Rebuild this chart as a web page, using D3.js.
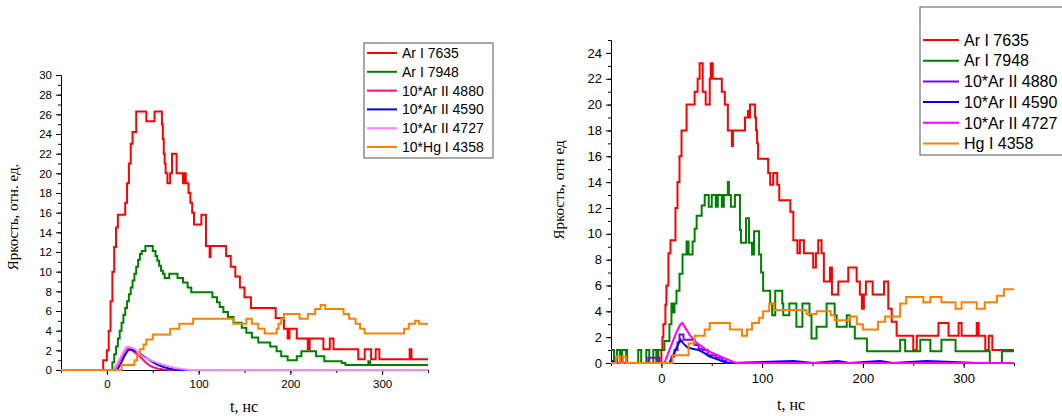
<!DOCTYPE html>
<html>
<head>
<meta charset="utf-8">
<script src="https://cdn.jsdelivr.net/npm/d3@7"></script>
<style>
  body { margin: 0; background: #fff; }
  svg text { font-family: "Liberation Sans", Arial, sans-serif; }
  .axis-title { font-family: "Liberation Serif", "Times New Roman", serif !important; }
</style>
</head>
<body>
<div id="main"></div>
<script>
// ---- data, [t (нс), яркость] ----
// left panel
var leftArI7635 = [[-50,0],[-4,1],[0,2],[2,4],[4,7],[6,10],[8,12.5],[10,14.5],[12,15.8],[20,17],[22,19],[24,21],[26,23],[28,24.2],[32,26.3],[43,25.3],[52,26.3],[60,25],[61,23.5],[62,22],[63,21],[64,20],[66,19],[69,20],[71,22],[76,20],[83,19],[85,20],[86,19],[89,18],[91,17],[93,16],[95,14.8],[103,15.8],[108,12.6],[112,11.5],[113,12.6],[130,11.6],[135,10.5],[140,9.5],[145,8.4],[150,7.4],[157,6.3],[184,5.3],[193,4.2],[197,3.2],[199,4.2],[207,3.2],[219,2.1],[221,3.2],[236,2.1],[243,3.2],[247,2.1],[274,1.1],[281,2.1],[288,1.1],[293,2.1],[297,1.1],[330,2.1],[332,1.1],[350,1.1]];
var leftArI7948 = [[-50,0],[4,0],[6,0.8],[8,1.6],[10,2.4],[12,3.2],[14,4.0],[16,4.8],[18,5.6],[20,6.3],[22,7.0],[24,7.7],[26,8.4],[28,9.1],[30,9.8],[32,10.5],[34,11.2],[36,11.8],[38,12.1],[42,12.6],[50,12.1],[53,11.6],[55,11.1],[57,10.6],[59,10.1],[61,9.8],[63,9.35],[68,9.8],[77,9.35],[83,8.9],[88,8.4],[92,7.9],[115,7.4],[120,6.9],[123,6.4],[127,5.9],[132,5.4],[138,4.8],[147,4.3],[152,3.8],[158,3.3],[165,2.8],[178,2.4],[185,1.9],[190,1.4],[197,1.0],[207,1.4],[212,1.9],[228,1.4],[237,0.9],[256,0.7],[260,0.5],[285,0.9],[287,0.5],[350,0.5]];
var leftArII4880 = [[-50,0],[8,0],[12,0.6],[16,1.3],[20,2.0],[23,2.3],[26,2.1],[30,1.8],[34,1.5],[38,1.2],[42,0.8],[46,0.5],[50,0.3],[55,0.15],[62,0.05],[70,0],[350,0]];
var leftArII4590 = [[-50,0],[11,0],[15,0.6],[19,1.4],[23,2.0],[27,2.1],[32,1.9],[36,1.7],[40,1.4],[45,1.1],[50,0.8],[56,0.5],[62,0.3],[68,0.15],[76,0],[350,0]];
var leftArII4727 = [[-50,0],[7,0],[11,0.6],[15,1.3],[19,2.0],[22,2.35],[27,2.3],[31,2.1],[35,1.7],[40,1.3],[45,1.1],[50,0.9],[56,0.7],[62,0.5],[68,0.35],[74,0.2],[82,0.1],[90,0],[350,0]];
var leftHgI4358 = [[-50,0],[16,0.5],[30,1.0],[33,1.5],[36,2.1],[40,2.6],[43,3.1],[50,3.6],[69,4.2],[79,4.7],[94,5.2],[138,4.7],[152,5.2],[158,4.7],[165,4.2],[172,3.7],[185,4.2],[187,4.7],[190,5.2],[193,5.7],[210,5.2],[219,5.7],[227,6.2],[233,6.6],[238,6.2],[258,5.7],[264,5.2],[271,4.7],[276,4.2],[281,3.7],[324,4.2],[329,4.7],[336,5.0],[340,4.7],[350,4.7]];

// right panel
var rightArI7635 = [[-50,0],[-41,1],[-34,0],[0,1],[1,2],[2,3],[4,4.5],[5,6],[7,8.5],[9,9.5],[14,12],[16,14],[18,16],[20,18],[25,20],[33,21],[36,22],[38,23.2],[41,21],[44,20],[48,22],[49,23.2],[51,22],[60,21],[63,20],[66,18],[70,16.8],[71,18],[83,19],[86,19.5],[87,19],[88,20],[93,19],[94,18],[95,17],[96,15.8],[106,14.7],[108,13.8],[111,14.7],[115,13.8],[117,12.6],[128,11.7],[131,9.5],[135,8.5],[137.5,9.5],[141.5,8.5],[150.7,7.4],[153.4,8.5],[155.7,9.5],[159,8.5],[161.3,6.3],[167.3,7.4],[169.3,5.3],[175.6,6.3],[185.5,7.4],[193.8,6.3],[197,5.3],[199,4.2],[201,5.3],[203,6.3],[209.7,5.3],[221,6.3],[225.2,4.2],[228.6,3.2],[233.5,2.1],[250,1.0],[253.5,2.1],[275,3.1],[285,2.1],[295,3.1],[298,2.1],[313,3.1],[315,2.1],[321.5,1.0],[325,2.1],[328.5,1.0],[350,1.0]];
var rightArI7948 = [[-50,1],[-47,0],[-44,1],[-41,0],[-39,1],[-35,0],[-23,1],[-20,0],[-15,1],[-12,0],[-8,1],[-5,0],[-3,1],[3,1.7],[8,3],[10,4.6],[12,3.9],[13,4.6],[15,5.6],[18,6.9],[21,8.4],[25,9.4],[27,8.4],[31,9.4],[33,10.4],[35,11.4],[40,12.2],[43,13],[47,12.1],[50,13],[54,12.1],[56,13],[60,12.1],[62,13],[66,14],[67,13],[69,12.1],[73,13],[78,10.3],[79,9.3],[84,11.2],[87,9.3],[90,8.4],[92,10.2],[97,8.4],[99,7],[101,5.6],[108,4.6],[110,3.7],[113,5.6],[120,4.6],[121,3.7],[127,4.6],[134,2.8],[140,4.6],[147,3.7],[149,1.9],[154,2.8],[164,4.6],[172,3.7],[174,2.8],[184,3.7],[187,2.8],[192,1.9],[204,0.9],[237,1.8],[242,0.9],[257,1.8],[267,0.9],[278,1.8],[292,0.9],[326,0],[338,0.9],[350,0.9]];
var rightArII4880 = [[-50,0],[-13,0.4],[-2,0],[8,0],[10,0.5],[13,1.0],[16,1.6],[18,2.2],[22,1.8],[33,1.4],[37,1.1],[41,1.0],[46,0.6],[54,0.4],[60,0.2],[64,0],[350,0]];
var rightArII4590 = [[-50,0.2],[-45,0],[8,0],[11,0.5],[14,1.0],[17,1.5],[19,1.8],[22,1.5],[26,1.2],[31,1.1],[37,1.0],[42,0.8],[48,0.5],[55,0.3],[62,0.1],[68,0],[131,0.15],[151,0],[175,0.15],[187,0],[217,0.15],[230,0],[263,0.15],[315,0],[350,0]];
var rightArII4727 = [[-50,0],[3,0],[7,0.8],[11,1.6],[15,2.4],[19,3.0],[21,3.1],[24,2.7],[28,2.2],[32,1.8],[36,1.5],[40,1.3],[45,1.0],[50,0.8],[56,0.6],[62,0.4],[68,0.2],[74,0],[350,0]];
var rightHgI4358 = [[-50,0],[-45,0.5],[-41,0],[-38,0.5],[-35,0],[11,0.6],[27,1.5],[33,2.1],[43,2.6],[48,3.1],[68,2.6],[80,2.1],[85,2.6],[90,3.1],[97,3.5],[101,4.0],[107,4.6],[112,4.1],[144,3.8],[154,4.0],[168,3.7],[172,3.3],[187,3.6],[194,3.0],[200,2.6],[215,3.2],[222,3.6],[237,4.6],[243,5.1],[260,4.7],[267,5.1],[278,4.7],[292,4.2],[298,4.7],[313,4.2],[321,4.7],[333,5.2],[340,5.7],[350,5.7]];

var leftLabels = ["Ar I 7635", "Ar I 7948", "10*Ar II 4880", "10*Ar II 4590", "10*Ar II 4727", "10*Hg I 4358"];
var rightLabels = ["Ar I 7635", "Ar I 7948", "10*Ar II 4880", "10*Ar II 4590", "10*Ar II 4727", "Hg I 4358"];

var xDomain = [-50, 350];
var xMinorTicks = [-50, 0, 50, 100, 150, 200, 250, 300, 350];
var xMajorTicks = [0, 100, 200, 300];

var svg = d3.select("#main")
  .append("svg")
    .attr("width", 1062)
    .attr("height", 416);

var line = function(x, y, curve) {
  return d3.line()
    .x(function(d) { return x(d[0]); })
    .y(function(d) { return y(d[1]); })
    .curve(curve);
}

function drawPanel(p) {
  var x = d3.scaleLinear().domain(xDomain).range(p.xRange);
  var y = d3.scaleLinear().domain([0, p.yMax]).range(p.yRange);
  var g = svg.append("g");

  // minor ticks, no labels
  g.append("g")
    .attr("transform", "translate(0," + p.yRange[0] + ")")
    .call(d3.axisBottom(x).tickValues(xMinorTicks).tickSize(3).tickSizeOuter(0).tickFormat(""));
  g.append("g")
    .attr("transform", "translate(" + p.xRange[0] + ",0)")
    .call(d3.axisLeft(y).tickValues(d3.range(0, p.yMax + 1, 1)).tickSize(3).tickSizeOuter(0).tickFormat(""));

  // major ticks with labels
  g.append("g")
    .attr("transform", "translate(0," + p.yRange[0] + ")")
    .call(d3.axisBottom(x).tickValues(xMajorTicks).tickSize(5).tickSizeOuter(0).tickPadding(p.xPad));
  g.append("g")
    .attr("transform", "translate(" + p.xRange[0] + ",0)")
    .call(d3.axisLeft(y).tickValues(d3.range(0, p.yTickMax + 1, 2)).tickSize(5).tickSizeOuter(0).tickPadding(p.yPad));

  g.selectAll(".tick text")
    .attr("font-family", "Liberation Sans, Arial, sans-serif")
    .attr("font-size", p.tickFont)
    .attr("fill", "#000");
  g.selectAll(".tick line").attr("stroke", "#000");
  g.selectAll(".domain").attr("stroke", "#000");

  // curves
  p.series.forEach(function(s) {
    g.append("path")
      .datum(s.data)
      .attr("fill", "none")
      .attr("stroke", s.color)
      .attr("stroke-width", 2)
      .attr("d", line(x, y, s.curve));
  });

  // axis titles
  g.append("text")
    .attr("class", "axis-title")
    .attr("text-anchor", "middle")
    .attr("font-size", p.titleFont)
    .attr("transform", "translate(" + p.yTitle[0] + "," + p.yTitle[1] + ")rotate(-90)")
    .text(p.yTitleText);
  g.append("text")
    .attr("class", "axis-title")
    .attr("text-anchor", "middle")
    .attr("font-size", p.titleFont + 1)
    .attr("x", p.xTitle[0])
    .attr("y", p.xTitle[1])
    .text("t, нс");

  // legend
  var lg = g.append("g");
  lg.append("rect")
    .attr("x", p.legend.x)
    .attr("y", p.legend.y)
    .attr("width", p.legend.w)
    .attr("height", p.legend.h)
    .attr("fill", "#fff")
    .attr("stroke", "#555")
    .attr("stroke-width", 1);
  p.series.forEach(function(s, i) {
    var ly = p.legend.first + i * p.legend.step;
    lg.append("line")
      .attr("x1", p.legend.x + 3).attr("x2", p.legend.x + 3 + p.legend.len)
      .attr("y1", ly).attr("y2", ly)
      .attr("stroke", s.color)
      .attr("stroke-width", 2);
    lg.append("text")
      .attr("x", p.legend.x + p.legend.len + 8)
      .attr("y", ly + p.legend.font * 0.36)
      .attr("font-size", p.legend.font)
      .text(p.labels[i]);
  });
}

drawPanel({
  xRange: [61, 428], yRange: [370, 75], yMax: 30, yTickMax: 30,
  tickFont: 11.5, xPad: 5, yPad: 4, titleFont: 15,
  yTitle: [18, 217], yTitleText: "Яркость, отн. ед.", xTitle: [244, 412],
  labels: leftLabels,
  legend: {x: 364, y: 43, w: 129, h: 115, first: 53, step: 18.8, len: 30, font: 14},
  series: [
    {data: leftArI7635, color: "#ff0000", curve: d3.curveStepAfter},
    {data: leftArI7948, color: "#008000", curve: d3.curveStepAfter},
    {data: leftArII4880, color: "#ff0a84", curve: d3.curveLinear},
    {data: leftArII4590, color: "#0000ff", curve: d3.curveLinear},
    {data: leftArII4727, color: "#ff80ff", curve: d3.curveLinear},
    {data: leftHgI4358, color: "#ff8000", curve: d3.curveStepAfter}
  ]
});

drawPanel({
  xRange: [611, 1014], yRange: [363, 40], yMax: 25, yTickMax: 24,
  tickFont: 13, xPad: 6, yPad: 4, titleFont: 15,
  yTitle: [564, 190], yTitleText: "Яркость, отн ед", xTitle: [791, 410],
  labels: rightLabels,
  legend: {x: 920, y: 7, w: 160, h: 148, first: 40, step: 20.7, len: 36, font: 16},
  series: [
    {data: rightArI7635, color: "#ff0000", curve: d3.curveStepAfter},
    {data: rightArI7948, color: "#008000", curve: d3.curveStepAfter},
    {data: rightArII4880, color: "#8000ff", curve: d3.curveStepAfter},
    {data: rightArII4590, color: "#0000ff", curve: d3.curveLinear},
    {data: rightArII4727, color: "#ff00ff", curve: d3.curveLinear},
    {data: rightHgI4358, color: "#ff8000", curve: d3.curveStepAfter}
  ]
});
</script>
</body>
</html>
